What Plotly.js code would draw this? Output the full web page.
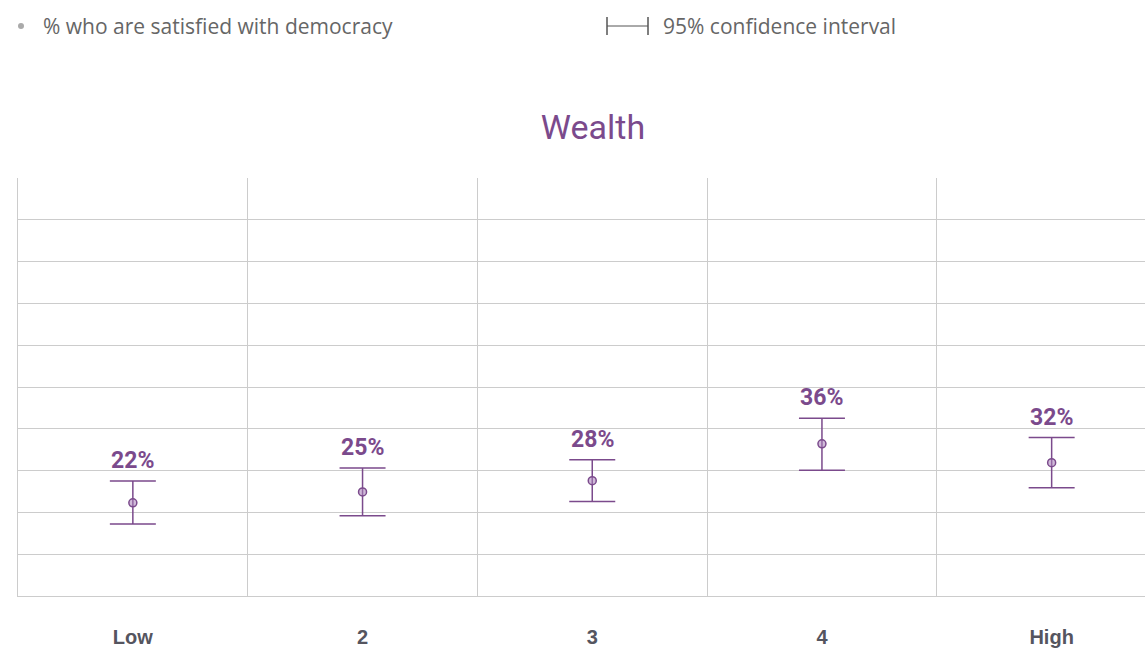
<!DOCTYPE html>
<html>
<head>
<meta charset="utf-8">
<script src="https://cdn.plot.ly/plotly-3.0.1.min.js"></script>
<style>
html,body{margin:0;padding:0;background:#fff;}
#chart{width:1145px;height:648px;}
</style>
</head>
<body>
<div id="chart"></div>
<script>
// Data
const categories = ["Low", "2", "3", "4", "High"];
const satisfied = [22.3, 24.9, 27.6, 36.4, 31.9];
const ciPlus = [5.2, 5.7, 5.0, 6.1, 6.0];
const ciMinus = [5.1, 5.7, 5.0, 6.3, 6.0];
const yTicks = [0, 10, 20, 30, 40, 50, 60, 70, 80, 90, 100];

const purple = "#7b4a8c";
const W = 1145, H = 648;
const M = {l: 18, r: 0, t: 178, b: 52};
const plotH = H - M.t - M.b;
const plotW = W - M.l - M.r;
// helpers to place layout decorations in paper units from pixel offsets
const py = p => (H - M.b - p) / plotH;
const px = p => (p - M.l) / plotW;

const trace = {
  type: "scatter",
  mode: "markers",
  x: categories,
  y: satisfied,
  marker: {size: 8, color: "rgba(170,130,185,0.55)", line: {color: purple, width: 1.5}},
  error_y: {type: "data", symmetric: false, array: ciPlus, arrayminus: ciMinus,
            color: purple, thickness: 1.5, width: 23},
  hoverinfo: "skip",
  showlegend: false
};

// category index used as annotation x (numeric-looking category names would be read as indices)
const labelAnns = categories.map((c, i) => ({
  x: i, y: satisfied[i] + ciPlus[i], xref: "x", yref: "y",
  text: Math.round(satisfied[i]) + "%",
  showarrow: false, yanchor: "bottom", yshift: 5,
  font: {family: "Roboto", size: 23, color: purple, weight: 700}
}));

const legendFont = {family: "Open Sans", size: 21, color: "#666666"};
const anns = labelAnns.concat([
  {xref: "paper", yref: "paper", x: px(41), y: py(26), xanchor: "left", yanchor: "middle",
   text: "% who are satisfied with democracy", showarrow: false, font: legendFont},
  {xref: "paper", yref: "paper", x: px(661), y: py(26), xanchor: "left", yanchor: "middle",
   text: "95% confidence interval", showarrow: false, font: legendFont}
]);

const iconColor = "#555555";
const shapes = [
  {type: "circle", xref: "paper", yref: "paper", x0: px(18), x1: px(24), y0: py(23), y1: py(29),
   fillcolor: "#aaaaaa", line: {width: 0}},
  {type: "line", xref: "paper", yref: "paper", x0: px(607), x1: px(607), y0: py(17), y1: py(35),
   line: {color: iconColor, width: 1.5}},
  {type: "line", xref: "paper", yref: "paper", x0: px(607), x1: px(648), y0: py(26), y1: py(26),
   line: {color: iconColor, width: 1}},
  {type: "line", xref: "paper", yref: "paper", x0: px(648), x1: px(648), y0: py(17), y1: py(35),
   line: {color: iconColor, width: 1.5}}
];

const layout = {
  width: W, height: H,
  margin: M,
  paper_bgcolor: "#ffffff", plot_bgcolor: "#ffffff",
  title: {text: "Wealth", x: px(593), xref: "paper", xanchor: "center", y: 1 - 127 / H, yanchor: "middle",
          font: {family: "Roboto", size: 34, color: purple}},
  xaxis: {
    type: "category", categoryorder: "array", categoryarray: categories,
    range: [-0.5, -0.5 + plotW / 229.7],
    tickson: "boundaries", ticks: "", showgrid: true, gridcolor: "#cccccc", gridwidth: 1,
    showline: true, linecolor: "#cccccc", linewidth: 1,
    zeroline: false, fixedrange: true,
    ticklabelstandoff: 23,
    tickfont: {family: "Liberation Sans", size: 20, color: "#55555f", weight: 700}
  },
  yaxis: {
    range: [0, 100], tickvals: yTicks, showticklabels: false, ticks: "",
    showgrid: true, gridcolor: "#cccccc", gridwidth: 1,
    showline: true, linecolor: "#cccccc", linewidth: 1, mirror: false,
    zeroline: false, fixedrange: true
  },
  annotations: anns,
  shapes: shapes,
  showlegend: false
};

Plotly.newPlot("chart", [trace], layout, {displayModeBar: false, staticPlot: true});
</script>
</body>
</html>
